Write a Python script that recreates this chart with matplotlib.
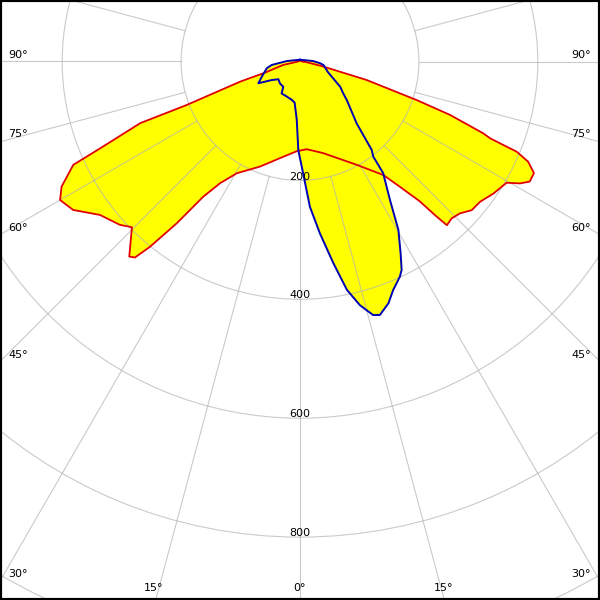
import numpy as np
import matplotlib.pyplot as plt

# photometric data, gamma in degrees (0 = straight down, + = right side), intensity in cd
red_gamma = [-180, -90, -78.4, -72.3, -71.4, -69.0, -68.9, -66.5, -65.5, -62.3, -60.0,
             -56.8, -52.5, -47.8, -45.4, -41.2, -40.1, -39.0, -37.3, -35.6, -33.3,
             -29.5, -20.8, -11.7, -2.1, 4.4, 14.2, 28.7, 36.3, 38.6, 40.6, 41.3,
             41.9, 44.0, 46.5, 49.1, 52.1, 55.7, 59.6, 61.0, 62.4, 64.5, 66.3,
             67.4, 68.0, 68.6, 70.4, 71.7, 74.5, 78.0, 85.0, 90, 180]
red_cd = [2, 3, 29, 62, 106, 204, 288, 367, 419, 453, 466,
          456, 424, 409, 397, 436, 431, 401, 342, 280, 245,
          216, 189, 166, 151, 148, 159, 198, 237, 270, 310, 344,
          370, 367, 371, 382, 384, 394, 403, 423, 436, 436, 419,
          395, 345, 331, 268, 207, 116, 38, 10, 3, 2]

blue_gamma = [-180, -114, -92, -83, -78.5, -68.4, -62.4, -56.8, -50.6, -42.5, -33.5,
              -29.9, -20.7, -12.0, -7.4, -3.2, -1.1, 1.7, 3.9, 6.6, 9.4, 11.6,
              13.8, 16.1, 17.5, 20.1, 22.2, 24.9, 26.0, 27.7, 30.3, 33.0, 36.7,
              37.6, 39.0, 42.5, 50.5, 53.7, 57.8, 69.4, 81.5, 85, 92, 180]
blue_cd = [3, 6, 22, 48, 57, 69, 79, 57, 47, 50, 51,
           62, 63, 66, 70, 98, 149, 190, 245, 291, 344, 392,
           422, 444, 447, 433, 415, 399, 390, 364, 328, 278, 234,
           202, 192, 141, 102, 90, 80, 50, 40, 34, 22, 3]

r_rings = [200, 400, 600, 800, 1000]
ring_labels = ['200', '400', '600', '800']
rmax = 1100

# angle labels: (text, x px, y px) along the image border
angle_labels = [('90°', 18, 55), ('75°', 18, 134), ('60°', 18, 228), ('45°', 18, 355),
                ('30°', 18, 574), ('15°', 154, 588), ('0°', 300, 588), ('15°', 444, 588),
                ('30°', 581, 574), ('45°', 581, 355), ('60°', 581, 228), ('75°', 581, 134),
                ('90°', 581, 55)]

W = H = 600
cx, cy = 300, 61.5
scale = 0.5945  # px per cd

fig = plt.figure(figsize=(6, 6), dpi=100)
fig.patch.set_facecolor('white')
rad = rmax * scale / W
ax = fig.add_axes([cx / W - rad, 1 - cy / H - rad, 2 * rad, 2 * rad], projection='polar')
ax.set_theta_zero_location('S')
ax.set_theta_direction(1)
ax.set_ylim(0, rmax)
ax.spines['polar'].set_visible(False)
ax.set_xticks([])
ax.set_rgrids(r_rings, labels=[''] * len(r_rings))
ax.set_axisbelow('line')
ax.yaxis.grid(True, color='#b4b4b4', alpha=0.7, lw=0.8)
ax.xaxis.grid(False)

gcol = dict(color='#b4b4b4', alpha=0.7, lw=0.8, zorder=1.5)
for a in range(0, 360, 15):
    t = np.deg2rad(a)
    ax.plot([t, t], [200, rmax], **gcol)

rt = np.deg2rad(red_gamma)
bt = np.deg2rad(blue_gamma)
ax.fill(rt, red_cd, color='#ffff00', lw=0, zorder=1)
ax.fill(bt, blue_cd, color='#ffff00', lw=0, zorder=1)
ax.plot(rt, red_cd, color='#e00000', lw=1.3, zorder=3, solid_joinstyle='round')
ax.plot(bt, blue_cd, color='#0000b4', lw=1.4, zorder=4, solid_joinstyle='round')

for r, lab in zip(r_rings, ring_labels):
    ax.text(0, r + 2, lab, ha='center', va='bottom', fontsize=8, zorder=5)

for lab, x, y in angle_labels:
    fig.text(x / W, 1 - y / H, lab, ha='center', va='center', fontsize=8)

fig.add_artist(plt.Rectangle((0, 0), 1, 1, transform=fig.transFigure,
                             fill=False, ec='black', lw=3))

fig.savefig('out.png', dpi=100)
